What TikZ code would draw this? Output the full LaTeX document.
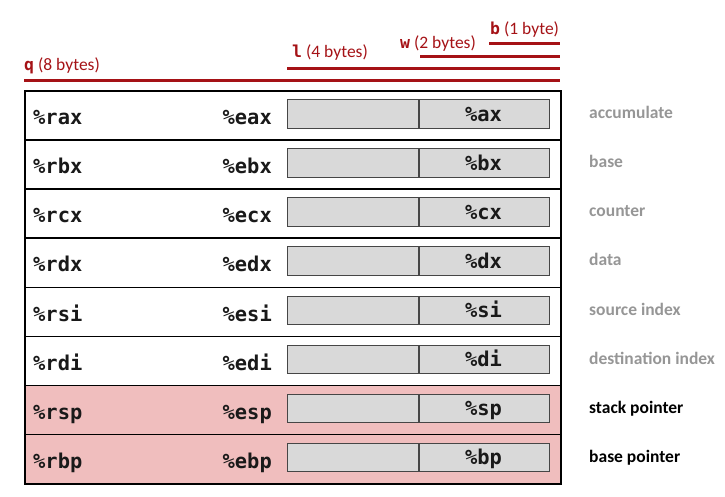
\documentclass[tikz,border=0pt]{standalone}
\usepackage{fontspec}
\setmainfont{Carlito}
\newfontfamily\monof{DejaVu Sans Mono}
\definecolor{darkred}{RGB}{165,18,22}
\definecolor{lblgray}{RGB}{150,150,150}
\definecolor{rowpink}{RGB}{240,190,190}
\definecolor{boxgray}{RGB}{217,217,217}
\definecolor{boxline}{RGB}{70,70,70}
\tikzset{
  x=1pt, y=-1pt,
  rowbox/.style={draw=black, line width=1.6pt, minimum width=536pt, minimum height=49.125pt, inner sep=0pt, anchor=north west},
  subbox/.style={draw=boxline, fill=boxgray, line width=0.9pt, minimum width=130.5pt, minimum height=28.5pt, inner sep=0pt, anchor=north west},
  regtxt/.style={font=\monof\bfseries\fontsize{20.4}{22}\selectfont, inner sep=0pt, text=black!90},
  desc/.style={font=\bfseries\fontsize{17.5}{20}\selectfont, inner sep=0pt, anchor=base west},
  sizetxt/.style={font=\fontsize{17.5}{20}\selectfont, text=darkred, inner sep=0pt, anchor=base west},
  sizeline/.style={draw=darkred, line width=3pt},
}
\newcommand{\mq}[1]{{\monof\bfseries\fontsize{16.5}{18}\selectfont #1}}
\begin{document}
\begin{tikzpicture}
\useasboundingbox (0,0) rectangle (725,496);
% size labels and bars
\node[sizetxt] (lq) at (24,70) {\mq{q} (8 bytes)};
\node[sizetxt] (ll) at (292,57) {\mq{l} (4 bytes)};
\node[sizetxt] (lw) at (400,48.5) {\mq{w} (2 bytes)};
\node[sizetxt] (lb) at (490,34) {\mq{b} (1 byte)};
\coordinate (q0) at (24,80);   \coordinate (q1) at (560,80);
\coordinate (l0) at (287,68);  \coordinate (l1) at (560,68);
\coordinate (w0) at (420,56);  \coordinate (w1) at (560,56);
\coordinate (b0) at (489,43);  \coordinate (b1) at (560,43);
\draw[sizeline] (q0) -- (q1);
\draw[sizeline] (l0) -- (l1);
\draw[sizeline] (w0) -- (w1);
\draw[sizeline] (b0) -- (b1);
% rows
\foreach \i/\r/\e/\s/\d/\f/\c in {
  1/rax/eax/ax/accumulate/white/lblgray,
  2/rbx/ebx/bx/base/white/lblgray,
  3/rcx/ecx/cx/counter/white/lblgray,
  4/rdx/edx/dx/data/white/lblgray,
  5/rsi/esi/si/source index/white/lblgray,
  6/rdi/edi/di/destination index/white/lblgray,
  7/rsp/esp/sp/stack pointer/rowpink/black,
  8/rbp/ebp/bp/base pointer/rowpink/black}{
  \pgfmathsetmacro{\t}{90+(\i-1)*49.125}
  \node[rowbox, fill=\f] (row\i) at (24,\t) {};
  \node[subbox] (hi\i) at (287,\t+9) {};
  \node[subbox] (lo\i) at (418.5,\t+9) {};
  \node[regtxt, anchor=base west] (q\i) at (33,\t+34.5) {\%\r};
  \node[regtxt, anchor=base east] (e\i) at (272,\t+34.5) {\%\e};
  \node[regtxt, anchor=base] (x\i) at (483.5,\t+31) {\%\s};
  \node[desc, text=\c] (d\i) at (589,\t+28.5) {\d};
}
\end{tikzpicture}
\end{document}
